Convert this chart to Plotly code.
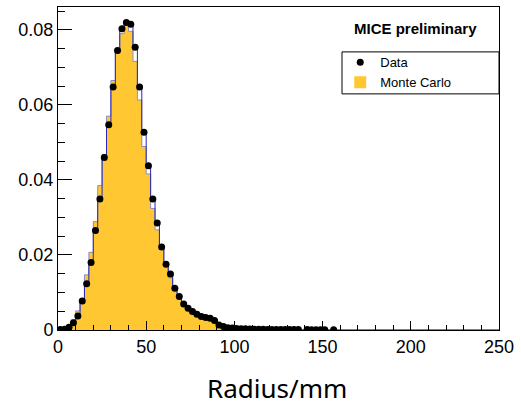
import numpy as np
import plotly.graph_objects as go

BIN_WIDTH = 2.5
N_BINS = 100

# Data (normalised counts per 2.5 mm bin, starting at 0 mm)
data_values = [
    0.0001, 0.0002, 0.0007, 0.0019, 0.0037, 0.0077, 0.0123, 0.0180, 0.0265, 0.0349,
    0.0460, 0.0547, 0.0648, 0.0745, 0.0803, 0.0820, 0.0815, 0.0754, 0.0648, 0.0527,
    0.0438, 0.0349, 0.0285, 0.0221, 0.0175, 0.0149, 0.0111, 0.0089, 0.0069, 0.0058,
    0.0049, 0.0042, 0.0036, 0.0033, 0.0031, 0.0025, 0.0013, 0.0009, 0.0006, 0.0005,
    0.0004, 0.0003, 0.0003, 0.00025, 0.0002, 0.0002, 0.0002, 0.00015, 0.00015, 0.00015,
    0.00012, 0.00012, 0.0001, 0.0001, 0.0001, 0.0, 0.0001, 0.00008, 0.00008, 0.00008,
    0.00006, 0.0, 0.00006,
] + [0.0] * 37

# Monte Carlo (normalised counts per 2.5 mm bin)
mc_values = [
    0.0, 0.0, 0.0003, 0.0027, 0.0051, 0.0084, 0.0147, 0.0207, 0.0289, 0.0385,
    0.0468, 0.0570, 0.0665, 0.0750, 0.0790, 0.0812, 0.0796, 0.0716, 0.0613, 0.0489,
    0.0416, 0.0324, 0.0267, 0.0218, 0.0176, 0.0139, 0.0108, 0.0087, 0.0068, 0.0056,
    0.0047, 0.0040, 0.0035, 0.0032, 0.0030, 0.0027, 0.0010, 0.0007, 0.0005, 0.0004,
    0.0003, 0.0003, 0.0002, 0.0002, 0.0002, 0.00015, 0.00015, 0.0001, 0.0001, 0.0001,
    0.0001, 0.00008, 0.00008, 0.00006, 0.00006, 0.00005, 0.00005, 0.00004, 0.00004, 0.00003,
] + [0.0] * 40

x_tick_vals = [0, 50, 100, 150, 200, 250]
y_tick_vals = [0, 0.02, 0.04, 0.06, 0.08]
y_tick_text = ["0", "0.02", "0.04", "0.06", "0.08"]

edges = np.arange(N_BINS + 1) * BIN_WIDTH
centers = edges[:-1] + BIN_WIDTH / 2
mc_step = list(mc_values) + [mc_values[-1]]
data_step = list(data_values) + [data_values[-1]]
data_points = [v if v > 0 else None for v in data_values]

YELLOW = "#FFC832"
fig = go.Figure()

fig.add_trace(go.Bar(
    x=centers, y=mc_values, width=BIN_WIDTH,
    marker=dict(color=YELLOW, line=dict(width=0)),
    name="Monte Carlo", hoverinfo="x+y",
))
fig.add_trace(go.Scatter(
    x=edges, y=mc_step, mode="lines", line_shape="hv",
    line=dict(color="#8C8CC8", width=1), showlegend=False, hoverinfo="skip",
))
fig.add_trace(go.Scatter(
    x=edges, y=data_step, mode="lines", line_shape="hv",
    line=dict(color="#2828B4", width=1), showlegend=False, hoverinfo="skip",
))
fig.add_trace(go.Scatter(
    x=centers, y=data_points, mode="markers",
    marker=dict(color="black", size=7),
    error_x=dict(type="constant", value=BIN_WIDTH / 2, thickness=1, width=0, color="black"),
    name="Data",
))

axis_font = dict(family="Liberation Sans, Arial, sans-serif", size=18, color="black")

fig.update_layout(
    width=521, height=405,
    margin=dict(l=58, r=22, t=7, b=75),
    paper_bgcolor="white", plot_bgcolor="white",
    bargap=0,
    showlegend=True,
    legend=dict(
        x=0.64, y=0.875, xanchor="left", yanchor="top",
        bgcolor="rgba(0,0,0,0)", borderwidth=0,
        font=dict(family="Liberation Sans, Arial, sans-serif", size=13, color="black"),
        traceorder="reversed",
    ),
    xaxis=dict(
        range=[0, 250], tickvals=x_tick_vals, ticks="inside", ticklen=9,
        tickcolor="black", showline=True, linecolor="black", linewidth=1, mirror=True,
        showgrid=False, zeroline=False, tickfont=axis_font, automargin=False,
        minor=dict(dtick=10, ticks="inside", ticklen=5, tickcolor="black", showgrid=False),
    ),
    yaxis=dict(
        range=[0, 0.0861], tickvals=y_tick_vals, ticktext=y_tick_text,
        ticks="inside", ticklen=14, tickcolor="black",
        showline=True, linecolor="black", linewidth=1, mirror=True,
        showgrid=False, zeroline=False, tickfont=axis_font, automargin=False,
        minor=dict(dtick=0.005, ticks="inside", ticklen=7, tickcolor="black", showgrid=False),
    ),
    shapes=[dict(
        type="rect", xref="paper", yref="paper", x0=0.644, x1=1.0, y0=0.731, y1=0.861,
        line=dict(color="black", width=1), fillcolor="rgba(0,0,0,0)",
    )],
    annotations=[
        dict(text="<b>MICE preliminary</b>", xref="paper", yref="paper", x=0.81, y=0.932,
             xanchor="center", yanchor="middle", showarrow=False,
             font=dict(family="Liberation Sans, Arial, sans-serif", size=15, color="black")),
        dict(text="Radius/mm", xref="paper", yref="paper", x=0.497, y=-0.18,
             xanchor="center", yanchor="middle", showarrow=False,
             font=dict(family="Noto Sans, Open Sans, sans-serif", size=26, color="black")),
    ],
)

fig.write_html("out.html", config={"displayModeBar": False},
               post_script="document.body.style.margin='0';")
